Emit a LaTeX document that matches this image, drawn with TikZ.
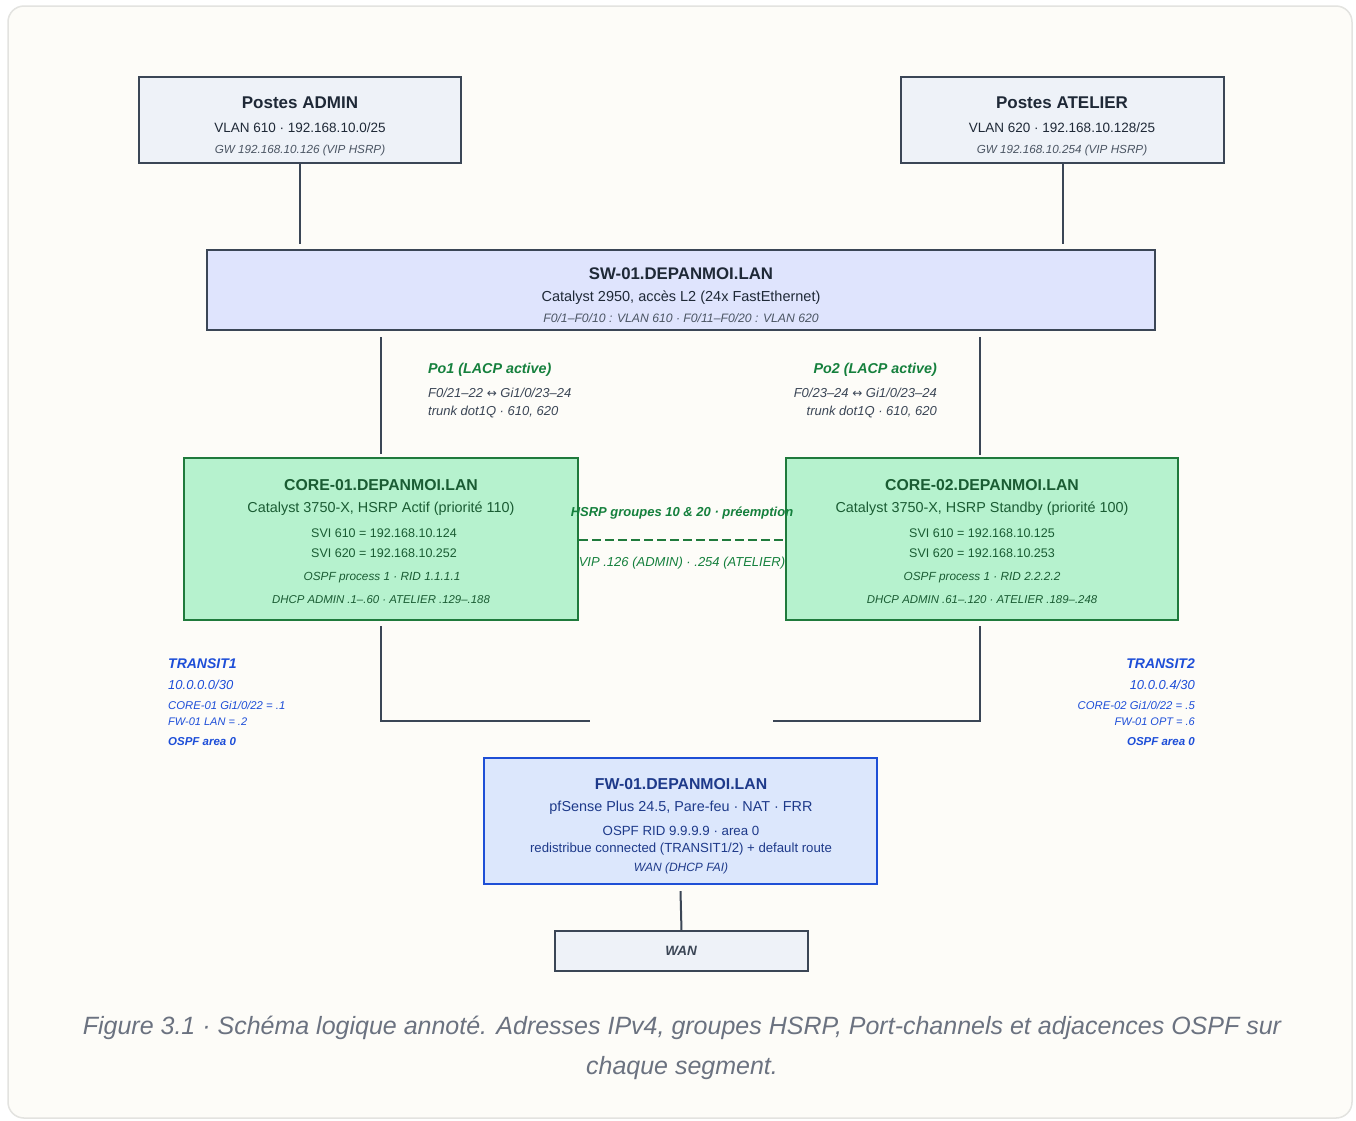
\documentclass[tikz,border=0pt]{standalone}
\usepackage{fontspec}
\setmainfont{Liberation Sans}
\newfontfamily\symfont{DejaVu Sans}
\definecolor{bgc}{HTML}{FDFCF8}
\definecolor{framec}{HTML}{E3E3E0}
\definecolor{slate}{HTML}{3B4656}
\definecolor{lightfill}{HTML}{EEF2F8}
\definecolor{swfill}{HTML}{DFE4FD}
\definecolor{gfill}{HTML}{B6F2CE}
\definecolor{gborder}{HTML}{1F7A3C}
\definecolor{gtext}{HTML}{1A5C33}
\definecolor{glabel}{HTML}{15803D}
\definecolor{bfill}{HTML}{DCE7FC}
\definecolor{bborder}{HTML}{1E4FD6}
\definecolor{btext}{HTML}{1E3A8A}
\definecolor{blabel}{HTML}{1D4ED8}
\definecolor{dtext}{HTML}{1F2937}
\definecolor{mtext}{HTML}{4B5563}
\definecolor{captc}{HTML}{6B7280}
\newcommand{\fs}[1]{\fontsize{#1}{#1}\selectfont}
\tikzset{
  boxshape/.style={draw=slate, line width=2pt, fill=lightfill, inner sep=0pt},
  txt/.style={inner sep=0pt, anchor=center},
  wire/.style={draw=slate, line width=2pt},
}
\begin{document}
\begin{tikzpicture}[x=1pt,y=-1pt]
\useasboundingbox (0,0) rectangle (1356,1120);
\fill[white] (0,0) rectangle (1356,1120);
\draw[framec, fill=bgc, line width=1.5pt, rounded corners=16pt] (8,6) rectangle (1352,1118);

% ---------- boxes ----------
\node[boxshape, minimum width=322pt, minimum height=86pt] (admin) at (300,120) {};
\node[boxshape, minimum width=323pt, minimum height=86pt] (atelier) at (1062.5,120) {};
\node[boxshape, fill=swfill, minimum width=948pt, minimum height=80pt] (sw) at (681,290) {};
\node[boxshape, draw=gborder, fill=gfill, line width=2.4pt, minimum width=394pt, minimum height=162pt] (core1) at (381,539) {};
\node[boxshape, draw=gborder, fill=gfill, line width=2.4pt, minimum width=392pt, minimum height=162pt] (core2) at (982,539) {};
\node[boxshape, draw=bborder, fill=bfill, line width=2.4pt, minimum width=393pt, minimum height=126pt] (fw) at (680.5,821) {};
\node[boxshape, minimum width=253pt, minimum height=40pt] (wan) at (681.5,951) {};

% ---------- texts ----------
\node[txt, text=dtext] (adminT) at (300,103) {\fs{17}\bfseries Postes ADMIN};
\node[txt, text=dtext] (adminL1) at (300,128) {\fs{13.5}VLAN 610 · 192.168.10.0/25};
\node[txt, text=mtext] (adminL2) at (300,150) {\fs{11.7}\itshape GW 192.168.10.126 (VIP HSRP)};

\node[txt, text=dtext] (atelT) at (1062,103) {\fs{17}\bfseries Postes ATELIER};
\node[txt, text=dtext] (atelL1) at (1062,128) {\fs{13.5}VLAN 620 · 192.168.10.128/25};
\node[txt, text=mtext] (atelL2) at (1062,150) {\fs{11.7}\itshape GW 192.168.10.254 (VIP HSRP)};

\node[txt, text=dtext] (swT) at (681,274) {\fs{16.8}\bfseries SW-01.DEPANMOI.LAN};
\node[txt, text=dtext] (swL1) at (681,298) {\fs{14.5}Catalyst 2950, accès L2 (24x FastEthernet)};
\node[txt, text=mtext] (swL2) at (681,318) {\fs{12.2}\itshape F0/1–F0/10 : VLAN 610 · F0/11–F0/20 : VLAN 620};

\node[txt, text=gtext] (c1T) at (381,485) {\fs{15.8}\bfseries CORE-01.DEPANMOI.LAN};
\node[txt, text=gtext] (c1L1) at (381,509) {\fs{14.4}Catalyst 3750-X, HSRP Actif (priorité 110)};
\node[txt, text=gtext] (c1L2) at (384,533) {\fs{12.5}SVI 610 = 192.168.10.124};
\node[txt, text=gtext] (c1L3) at (384,553) {\fs{12.5}SVI 620 = 192.168.10.252};
\node[txt, text=gtext] (c1L4) at (382,578) {\fs{11.8}\itshape OSPF process 1 · RID 1.1.1.1};
\node[txt, text=gtext] (c1L5) at (381,600) {\fs{11.4}\itshape DHCP ADMIN .1–.60 · ATELIER .129–.188};

\node[txt, text=gtext] (c2T) at (982,485) {\fs{15.8}\bfseries CORE-02.DEPANMOI.LAN};
\node[txt, text=gtext] (c2L1) at (982,509) {\fs{14.4}Catalyst 3750-X, HSRP Standby (priorité 100)};
\node[txt, text=gtext] (c2L2) at (982,533) {\fs{12.5}SVI 610 = 192.168.10.125};
\node[txt, text=gtext] (c2L3) at (982,553) {\fs{12.5}SVI 620 = 192.168.10.253};
\node[txt, text=gtext] (c2L4) at (982,578) {\fs{11.8}\itshape OSPF process 1 · RID 2.2.2.2};
\node[txt, text=gtext] (c2L5) at (982,600) {\fs{11.4}\itshape DHCP ADMIN .61–.120 · ATELIER .189–.248};

\node[txt, text=btext] (fwT) at (681,784) {\fs{15.8}\bfseries FW-01.DEPANMOI.LAN};
\node[txt, text=btext] (fwL1) at (681,808) {\fs{14.4}pfSense Plus 24.5, Pare-feu · NAT · FRR};
\node[txt, text=btext] (fwL2) at (681,831) {\fs{13.3}OSPF RID 9.9.9.9 · area 0};
\node[txt, text=btext] (fwL3) at (681,849) {\fs{13.2}redistribue connected (TRANSIT1/2) + default route};
\node[txt, text=btext] (fwL4) at (681,868) {\fs{12}\itshape WAN (DHCP FAI)};

\node[txt, text=slate] (wanT) at (681,951) {\fs{13.5}\bfseries\itshape WAN};

% ---------- connectors ----------
\draw[wire] (admin.south) -- ([yshift=5pt]admin.south |- sw.north);
\draw[wire] (atelier.south) -- ([yshift=5pt]atelier.south |- sw.north);
\draw[wire] ([yshift=-6pt]sw.south -| core1.north) -- ([yshift=3pt]core1.north);
\draw[wire] ([yshift=-6pt]sw.south -| 980,0) coordinate (po2top) -- (po2top |- 0,455) coordinate (po2bot);
\draw[wire] ([yshift=-6pt]fw.south) -- ([yshift=-1pt]wan.north);

% Po labels
\node[txt, anchor=west, text=glabel] (po1T) at (428,370) {\fs{14.3}\bfseries\itshape Po1 (LACP active)};
\node[txt, anchor=west, text=slate] (po1L1) at (428,393) {\fs{13}\itshape F0/21–22 {\symfont\fs{12}↔} Gi1/0/23–24};
\node[txt, anchor=west, text=slate] (po1L2) at (428,412) {\fs{13}\itshape trunk dot1Q · 610, 620};
\node[txt, anchor=east, text=glabel] (po2T) at (937,370) {\fs{14.3}\bfseries\itshape Po2 (LACP active)};
\node[txt, anchor=east, text=slate] (po2L1) at (937,393) {\fs{13}\itshape F0/23–24 {\symfont\fs{12}↔} Gi1/0/23–24};
\node[txt, anchor=east, text=slate] (po2L2) at (937,412) {\fs{13}\itshape trunk dot1Q · 610, 620};

% HSRP link
\draw[gborder, line width=2pt, dash pattern=on 9pt off 4pt] (core1.east |- 0,540) -- (core2.west |- 0,540);
\node[txt, text=glabel] (hsrpT) at (682,513) {\fs{13}\bfseries\itshape HSRP groupes 10 \& 20 · préemption};
\node[txt, text=glabel] (hsrpB) at (682,563) {\fs{13}\itshape VIP .126 (ADMIN) · .254 (ATELIER)};

% transit links
\coordinate (t1end) at (590,721);
\coordinate (t2end) at (773,721);
\draw[wire, line join=miter] ([yshift=-5pt]core1.south) |- (t1end);
\draw[wire, line join=miter] ([yshift=-5pt]core2.south -| 980,0) |- (t2end);

% transit labels
\node[txt, anchor=west, text=blabel] (tr1T) at (168,664) {\fs{14}\bfseries\itshape TRANSIT1};
\node[txt, anchor=west, text=blabel] (tr1L1) at (168,685) {\fs{13}\itshape 10.0.0.0/30};
\node[txt, anchor=west, text=blabel] (tr1L2) at (168,705) {\fs{11.3}\itshape CORE-01 Gi1/0/22 = .1};
\node[txt, anchor=west, text=blabel] (tr1L3) at (168,722) {\fs{11}\itshape FW-01 LAN = .2};
\node[txt, anchor=west, text=blabel] (tr1L4) at (168,742) {\fs{11.5}\bfseries\itshape OSPF area 0};

\node[txt, anchor=east, text=blabel] (tr2T) at (1195,664) {\fs{14}\bfseries\itshape TRANSIT2};
\node[txt, anchor=east, text=blabel] (tr2L1) at (1195,685) {\fs{13}\itshape 10.0.0.4/30};
\node[txt, anchor=east, text=blabel] (tr2L2) at (1195,705) {\fs{11.3}\itshape CORE-02 Gi1/0/22 = .5};
\node[txt, anchor=east, text=blabel] (tr2L3) at (1195,722) {\fs{11}\itshape FW-01 OPT = .6};
\node[txt, anchor=east, text=blabel] (tr2L4) at (1195,742) {\fs{11.5}\bfseries\itshape OSPF area 0};

% caption
\node[txt, text=captc] (cap1) at (682,1028) {\fs{25}\itshape Figure 3.1 · Schéma logique annoté. Adresses IPv4, groupes HSRP, Port-channels et adjacences OSPF sur};
\node[txt, text=captc] (cap2) at (682,1068) {\fs{25}\itshape chaque segment.};
\end{tikzpicture}
\end{document}
